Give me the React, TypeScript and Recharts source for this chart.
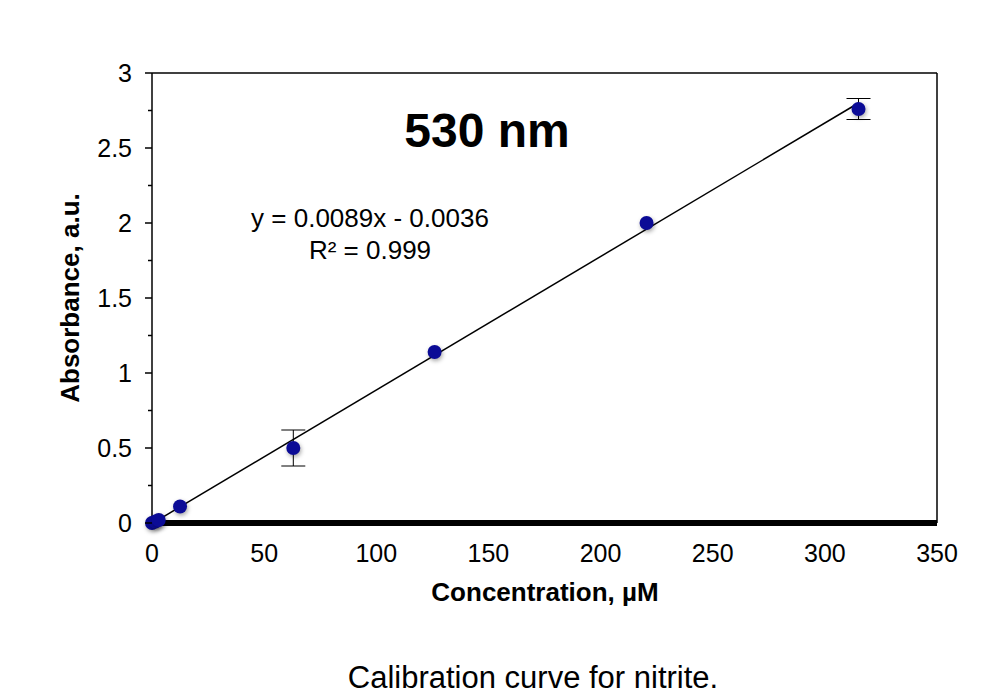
import {
  ScatterChart,
  Scatter,
  XAxis,
  YAxis,
  ErrorBar,
  ReferenceLine,
} from 'recharts';

// measured calibration points (nitrite, 530 nm)
const concentration = [0, 1.5, 3, 12.5, 63, 126, 220.5, 315];
const absorbance = [0, 0.01, 0.02, 0.11, 0.5, 1.14, 2.0, 2.76];
const absorbanceError = [0, 0, 0, 0, 0.12, 0, 0, 0.07];

// linear fit y = 0.0089x - 0.0036, drawn between its end points
const trendX = [0, 315];
const trendY = [-0.0036, 2.8];

const xTicks = [0, 50, 100, 150, 200, 250, 300, 350];
const yTicks = [0, 0.25, 0.5, 0.75, 1, 1.25, 1.5, 1.75, 2, 2.25, 2.5, 2.75, 3];

const points = concentration.map((x, i) => ({ x, y: absorbance[i], err: absorbanceError[i] }));

const FONT = '"Liberation Sans", Arial, sans-serif';

function YTick({ x, y, payload }: any) {
  const v = payload.value as number;
  const major = Math.abs(v * 2 - Math.round(v * 2)) < 1e-6;
  return (
    <g>
      <line x1={x - (major ? 7 : 4)} x2={x} y1={y} y2={y} stroke="#000" strokeWidth={1.5} />
      {major && (
        <text x={x - 20} y={y} dy="0.35em" textAnchor="end" fontSize={25} fill="#000" fontFamily={FONT}>
          {v}
        </text>
      )}
    </g>
  );
}

function XTick({ x, y, payload }: any) {
  return (
    <text x={x} y={y} dy="0.71em" textAnchor="middle" fontSize={25} fill="#000" fontFamily={FONT}>
      {payload.value}
    </text>
  );
}

function Dot({ cx, cy }: any) {
  return (
    <circle
      cx={cx}
      cy={cy}
      r={7}
      fill="#0b0b96"
      style={{ filter: 'drop-shadow(1px 2px 2px rgba(0,0,0,0.35))' }}
    />
  );
}

export default function App() {
  return (
    <div style={{ position: 'relative', width: 971, height: 682, fontFamily: FONT, background: '#fff' }}>
      <ScatterChart width={971} height={620} margin={{ top: 65, right: 42, bottom: 65, left: 0 }}>
        <XAxis
          type="number"
          dataKey="x"
          domain={[0, 350]}
          ticks={xTicks}
          tick={<XTick />}
          tickLine={false}
          tickSize={0}
          tickMargin={21}
          height={40}
          axisLine={{ stroke: '#000', strokeWidth: 6 }}
        />
        <YAxis
          type="number"
          dataKey="y"
          domain={[0, 3]}
          ticks={yTicks}
          tick={<YTick />}
          tickLine={false}
          tickSize={0}
          tickMargin={0}
          width={144}
          interval={0}
          axisLine={{ stroke: '#000', strokeWidth: 1.5 }}
        />
        <ReferenceLine y={3} stroke="#000" strokeWidth={1.5} />
        <ReferenceLine x={350} stroke="#000" strokeWidth={1.5} />
        <Scatter data={points} shape={<Dot />} isAnimationActive={false}>
          <ErrorBar dataKey="err" direction="y" width={12} stroke="#000" strokeWidth={1} />
        </Scatter>
        <ReferenceLine
          segment={[
            { x: trendX[0], y: trendY[0] },
            { x: trendX[1], y: trendY[1] },
          ]}
          stroke="#000"
          strokeWidth={1.5}
          ifOverflow="visible"
        />
      </ScatterChart>

      <div style={{ position: 'absolute', left: 0, top: 0, width: 971, pointerEvents: 'none' }}>
        <div style={{ position: 'absolute', left: 329, top: 95, width: 300, textAlign: 'center', fontSize: 48, lineHeight: '56px', fontWeight: 'bold' }}>
          530 nm
        </div>
        <div style={{ position: 'absolute', left: 162, top: 194, width: 400, textAlign: 'center', fontSize: 26, lineHeight: '32px' }}>
          y = 0.0089x - 0.0036
          <br />
          R² = 0.999
        </div>
        <div
          style={{
            position: 'absolute',
            left: 62 - 150,
            top: 290 - 15,
            width: 300,
            textAlign: 'center',
            fontSize: 26,
            fontWeight: 'bold',
            transform: 'rotate(-90deg)',
            transformOrigin: '150px 15px',
            lineHeight: '30px',
          }}
        >
          Absorbance, a.u.
        </div>
        <div style={{ position: 'absolute', left: 387, top: 569, width: 300, textAlign: 'center', fontSize: 26, lineHeight: '30px', fontWeight: 'bold' }}>
          Concentration, µM
        </div>
        <div style={{ position: 'absolute', left: 275, top: 652, width: 500, textAlign: 'center', fontSize: 31, lineHeight: '36px' }}>
          Calibration curve for nitrite.
        </div>
      </div>
    </div>
  );
}
